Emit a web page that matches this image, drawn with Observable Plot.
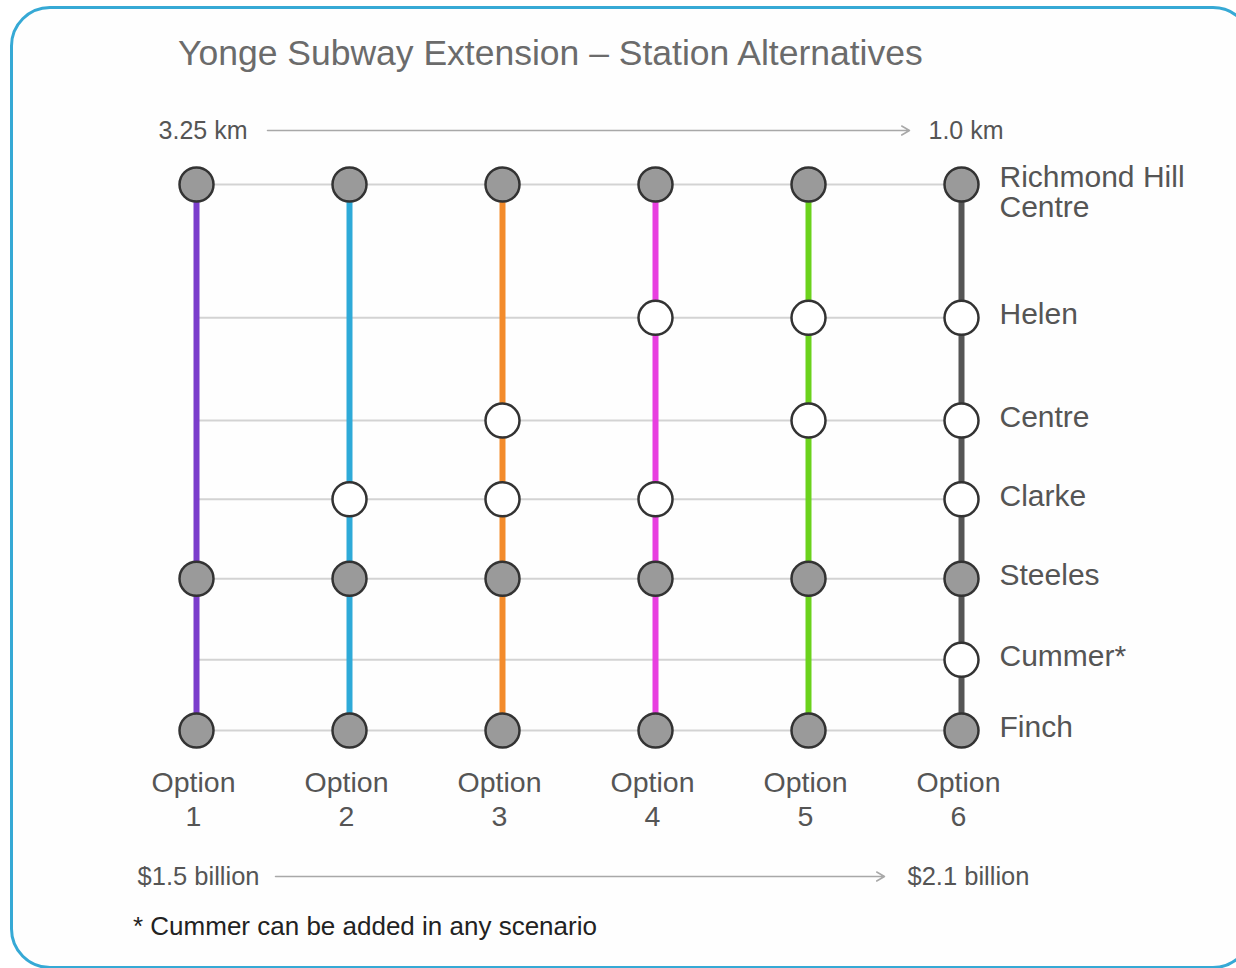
<!DOCTYPE html>
<html>
<head>
<meta charset="utf-8">
<script src="https://cdn.jsdelivr.net/npm/d3@7"></script>
<script src="https://cdn.jsdelivr.net/npm/@observablehq/plot@0.6"></script>
<style>
  html, body { margin: 0; padding: 0; background: #ffffff; overflow: hidden; }
  #page { position: relative; width: 1236px; height: 968px; overflow: hidden; font-family: "Liberation Sans", Arial, sans-serif; }
  #frame { position: absolute; left: 10px; top: 6px; width: 1243px; height: 963px; box-sizing: border-box;
           border: 3px solid #36a9d5; border-radius: 40px; background: #fefefe; }
  #title { position: absolute; left: 178px; top: 36px; font-size: 35.5px; line-height: 1; color: #6b6b6b; white-space: nowrap; }
  #note { position: absolute; left: 133px; top: 913px; font-size: 26px; line-height: 1; color: #222; white-space: nowrap; }
  #chart { position: absolute; left: 0; top: 0; }
</style>
</head>
<body>
<div id="page">
  <div id="frame"></div>
  <div id="chart"></div>
  <div id="title">Yonge Subway Extension – Station Alternatives</div>
  <div id="note">* Cummer can be added in any scenario</div>
</div>
<script>
// ---- data ----
const options = ["1", "2", "3", "4", "5", "6"];
const optionColors = ["#7b3dcc", "#2eaad8", "#f38b2b", "#e83fe0", "#6bd21c", "#555555"];
const stations = ["Richmond Hill\nCentre", "Helen", "Centre", "Clarke", "Steeles", "Cummer*", "Finch"];
// approximate distance north of Finch (km), read from the diagram's spacing
const stationKm = [6.8, 5.14, 3.86, 2.88, 1.89, 0.88, 0];
const optionalStations = ["Helen", "Centre", "Clarke", "Cummer*"];
const option1Stations = ["Richmond Hill\nCentre", "Steeles", "Finch"];
const option2Stations = ["Richmond Hill\nCentre", "Clarke", "Steeles", "Finch"];
const option3Stations = ["Richmond Hill\nCentre", "Centre", "Clarke", "Steeles", "Finch"];
const option4Stations = ["Richmond Hill\nCentre", "Helen", "Clarke", "Steeles", "Finch"];
const option5Stations = ["Richmond Hill\nCentre", "Helen", "Centre", "Steeles", "Finch"];
const option6Stations = ["Richmond Hill\nCentre", "Helen", "Centre", "Clarke", "Steeles", "Cummer*", "Finch"];
const distanceRange = ["3.25 km", "1.0 km"];
const costRange = ["$1.5 billion", "$2.1 billion"];

// ---- build tables ----
const kmOf = new Map(stations.map((s, i) => [s, stationKm[i]]));
const stationRows = stations.map((s, i) => ({station: s, km: stationKm[i]}));
const optionStations = [option1Stations, option2Stations, option3Stations, option4Stations, option5Stations, option6Stations];
const optionRows = options.map((o, i) => ({option: o, color: optionColors[i], label: "Option\n" + o}));
const stops = optionStations.flatMap((list, i) => list.map(s => ({
  option: options[i], station: s, km: kmOf.get(s), optional: optionalStations.includes(s)
})));
const topKm = d3.max(stationKm), bottomKm = d3.min(stationKm);
const firstOpt = options[0], lastOpt = options[options.length - 1];

const font = "Liberation Sans, Arial, sans-serif";
const chart = Plot.plot({
  width: 1236,
  height: 968,
  marginLeft: 194,
  marginRight: 274,
  marginTop: 184,
  marginBottom: 238,
  x: {type: "point", domain: options, padding: 0, axis: null},
  y: {domain: [bottomKm, topKm], axis: null},
  color: {type: "identity"},
  style: {background: "transparent", fontFamily: font, overflow: "visible"},
  marks: [
    Plot.ruleY(stationRows, {y: "km", x1: () => firstOpt, x2: () => lastOpt, stroke: "#d3d3d3", strokeWidth: 2}),
    Plot.ruleX(optionRows, {x: "option", y1: () => bottomKm, y2: () => topKm, stroke: "color", strokeWidth: 6}),
    Plot.dot(stops, {x: "option", y: "km", r: 17, fill: d => d.optional ? "#ffffff" : "#9a9a9a", stroke: "#333333", strokeWidth: 2.5}),
    // station labels
    Plot.text(stationRows.filter(d => !d.station.includes("\n")), {x: () => lastOpt, y: "km", text: "station", dx: 38, dy: -3, textAnchor: "start", fontSize: 30, fill: "#555555"}),
    Plot.text(stationRows.filter(d => d.station.includes("\n")), {x: () => lastOpt, y: "km", text: "station", dx: 38, dy: 8, textAnchor: "start", fontSize: 30, lineHeight: 1, fill: "#555555"}),
    // option labels
    Plot.text(optionRows, {x: "option", y: () => bottomKm, text: "label", lineAnchor: "top", dx: -3, dy: 38, fontSize: 28.5, lineHeight: 1.18, fill: "#555555"}),
    // distance arrow
    Plot.arrow([{from: firstOpt, to: lastOpt, y: topKm}], {x1: "from", x2: "to", y1: "y", y2: "y", dy: -54, insetStart: 71, insetEnd: 52, stroke: "#a8a8a8", strokeWidth: 1.5, headLength: 9}),
    Plot.text([{t: distanceRange[0], x: firstOpt, y: topKm}], {x: "x", y: "y", text: "t", dy: -54, dx: 51, textAnchor: "end", fontSize: 25, fill: "#555555"}),
    Plot.text([{t: distanceRange[1], x: lastOpt, y: topKm}], {x: "x", y: "y", text: "t", dy: -54, dx: -33, textAnchor: "start", fontSize: 25, fill: "#555555"}),
    // cost arrow
    Plot.arrow([{from: firstOpt, to: lastOpt, y: bottomKm}], {x1: "from", x2: "to", y1: "y", y2: "y", dy: 146, insetStart: 79, insetEnd: 77, stroke: "#a8a8a8", strokeWidth: 1.5, headLength: 9}),
    Plot.text([{t: costRange[0], x: firstOpt, y: bottomKm}], {x: "x", y: "y", text: "t", dy: 146, dx: 63, textAnchor: "end", fontSize: 25.5, fill: "#555555"}),
    Plot.text([{t: costRange[1], x: lastOpt, y: bottomKm}], {x: "x", y: "y", text: "t", dy: 146, dx: -54, textAnchor: "start", fontSize: 25.5, fill: "#555555"})
  ]
});
document.getElementById("chart").appendChild(chart);
</script>
</body>
</html>
